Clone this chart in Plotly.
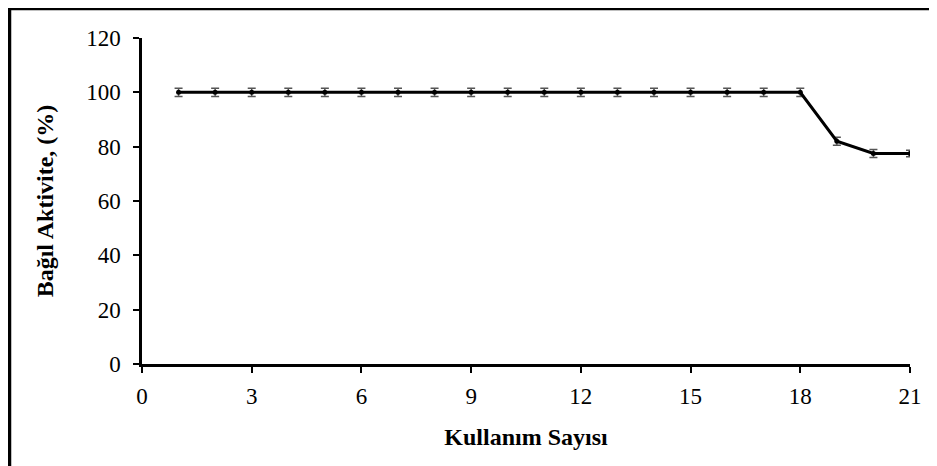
import plotly.graph_objects as go

kullanim = list(range(1, 22))
aktivite = [100]*18 + [82, 77.5, 77.5]
hata = [1.5]*18 + [1.5, 1.5, 1.2]

x_ticks = [0, 3, 6, 9, 12, 15, 18, 21]
y_ticks = [0, 20, 40, 60, 80, 100, 120]

fig = go.Figure()
fig.add_trace(go.Scatter(
    x=kullanim, y=aktivite, mode="lines+markers",
    line=dict(color="black", width=3),
    marker=dict(color="black", size=5),
    error_y=dict(type="data", array=hata, visible=True, color="#555555", thickness=1.5, width=4),
    showlegend=False,
))

font_family = "Liberation Serif"
L, T, W, H = 134, 30, 768, 326
fig.update_layout(
    width=937, height=466,
    margin=dict(l=L, r=937 - L - W, t=T, b=466 - T - H),
    paper_bgcolor="white", plot_bgcolor="white",
    font=dict(family=font_family, size=23, color="black"),
    xaxis=dict(range=[0, 21], tickvals=x_ticks, showgrid=False, zeroline=False,
               showline=True, linecolor="black", linewidth=2.5,
               ticks="outside", ticklen=6, tickwidth=2, tickcolor="black",
               ticklabelstandoff=4,
               title=dict(text="<b>Kullanım Sayısı</b>", font=dict(size=24), standoff=20)),
    yaxis=dict(range=[0, 120], tickvals=y_ticks, showgrid=False, zeroline=False,
               showline=True, linecolor="black", linewidth=2.5,
               ticks="outside", ticklen=6, tickwidth=2, tickcolor="black",
               ticklabelstandoff=8,
               title=dict(text="<b>Bağıl Aktivite, (%)</b>", font=dict(size=24), standoff=26)),
)

fig.add_shape(type="rect", xref="paper", yref="paper",
              x0=(1.5 - L) / W, x1=(980 - L) / W,
              y0=(T + H - 500) / H, y1=(T + H - 0.5) / H,
              line=dict(color="black", width=3.5), layer="above")

fig.write_html("out.html")
